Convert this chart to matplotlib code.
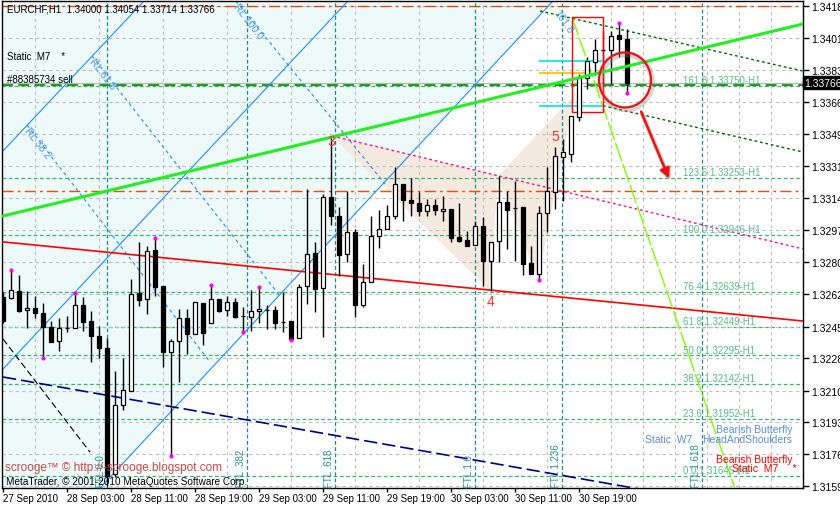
import numpy as np
import matplotlib
matplotlib.use("Agg")
import matplotlib.pyplot as plt
from matplotlib.patches import Ellipse, Polygon, Rectangle, FancyArrowPatch

plt.rcParams['font.family'] = ['Liberation Sans', 'DejaVu Sans']

# EURCHF H1 bars, bar 0 = 27 Sep 2010 19:00
opens = [1.32610, 1.32604, 1.32642, 1.32540, 1.32550, 1.32523, 1.32450, 1.32371, 1.32441, 1.32441,
         1.32565, 1.32480, 1.32401, 1.32335, 1.31655, 1.32029, 1.32104, 1.32631, 1.32599, 1.32863,
         1.32668, 1.32311, 1.32371, 1.32497, 1.32410, 1.32575, 1.32468, 1.32599, 1.32541, 1.32581,
         1.32505, 1.32500, 1.32533, 1.32540, 1.32540, 1.32476, 1.32482, 1.32387, 1.32668, 1.32847,
         1.32657, 1.33148, 1.33045, 1.32840, 1.32959, 1.32568, 1.32689, 1.32937, 1.32977, 1.33045,
         1.33220, 1.33135, 1.33117, 1.33075, 1.33106, 1.33072, 1.33085, 1.32932, 1.32919, 1.32892,
         1.32991, 1.32806, 1.32910, 1.33121, 1.33090, 1.33094, 1.32793, 1.32734, 1.33061, 1.33178,
         1.33364, 1.33381, 1.33580, 1.33790, 1.33876, 1.33943, 1.33943, 1.34024, 1.34000]
highs = [1.32637, 1.32755, 1.32728, 1.32644, 1.32617, 1.32577, 1.32482, 1.32496, 1.32506, 1.32630,
         1.32610, 1.32536, 1.32455, 1.32387, 1.32212, 1.32281, 1.32707, 1.32908, 1.32887, 1.32923,
         1.32668, 1.32383, 1.32545, 1.32545, 1.32581, 1.32575, 1.32674, 1.32599, 1.32614, 1.32603,
         1.32554, 1.32649, 1.32660, 1.32567, 1.32563, 1.32635, 1.32482, 1.32680, 1.33193, 1.32905,
         1.33166, 1.33480, 1.33094, 1.33183, 1.32977, 1.32788, 1.33045, 1.33081, 1.33106, 1.33310,
         1.33220, 1.33250, 1.33178, 1.33139, 1.33139, 1.33157, 1.33085, 1.33117, 1.32968, 1.33022,
         1.33040, 1.32905, 1.33264, 1.33183, 1.33237, 1.33094, 1.32887, 1.33103, 1.33310, 1.33419,
         1.33462, 1.33585, 1.33813, 1.33903, 1.34002, 1.34045, 1.34045, 1.34083, 1.34054]
lows = [1.32470, 1.32600, 1.32529, 1.32441, 1.32498, 1.32284, 1.32365, 1.32320, 1.32422, 1.32441,
        1.32426, 1.32257, 1.32279, 1.31590, 1.31639, 1.32002, 1.32104, 1.32563, 1.32518, 1.32617,
        1.32231, 1.31752, 1.32153, 1.32302, 1.32410, 1.32351, 1.32468, 1.32527, 1.32505, 1.32495,
        1.32422, 1.32428, 1.32469, 1.32437, 1.32437, 1.32419, 1.32380, 1.32387, 1.32572, 1.32530,
        1.32392, 1.32998, 1.32725, 1.32797, 1.32500, 1.32554, 1.32689, 1.32873, 1.32977, 1.33031,
        1.33018, 1.33045, 1.33045, 1.33048, 1.33052, 1.33022, 1.32905, 1.32905, 1.32887, 1.32892,
        1.32671, 1.32644, 1.32797, 1.32869, 1.32806, 1.32730, 1.32734, 1.32707, 1.32962, 1.33085,
        1.33128, 1.33337, 1.33561, 1.33732, 1.33808, 1.33760, 1.33759, 1.33903, 1.33714]
closes = [1.32480, 1.32648, 1.32534, 1.32550, 1.32525, 1.32446, 1.32369, 1.32442, 1.32441, 1.32565,
          1.32477, 1.32398, 1.32336, 1.31644, 1.32027, 1.32108, 1.32626, 1.32595, 1.32856, 1.32665,
          1.32315, 1.32371, 1.32495, 1.32410, 1.32581, 1.32416, 1.32599, 1.32536, 1.32581, 1.32500,
          1.32505, 1.32536, 1.32545, 1.32540, 1.32469, 1.32476, 1.32383, 1.32662, 1.32842, 1.32653,
          1.33148, 1.33045, 1.32838, 1.32959, 1.32568, 1.32689, 1.32937, 1.32977, 1.33045, 1.33220,
          1.33135, 1.33117, 1.33075, 1.33106, 1.33081, 1.33085, 1.32930, 1.32914, 1.32887, 1.32991,
          1.32806, 1.32905, 1.33121, 1.33081, 1.33090, 1.32788, 1.32734, 1.33061, 1.33180, 1.33373,
          1.33391, 1.33585, 1.33791, 1.33882, 1.33943, 1.33943, 1.34016, 1.34002, 1.33766]
fractal_up = [1, 9, 19, 26, 32, 77]
fractal_down = [5, 21, 30, 36, 67, 78]

time_ticks = [0, 8, 16, 24, 32, 40, 48, 56, 64, 72]
time_labels = ["27 Sep 2010", "28 Sep 03:00", "28 Sep 11:00", "28 Sep 19:00", "29 Sep 03:00",
               "29 Sep 11:00", "29 Sep 19:00", "30 Sep 03:00", "30 Sep 11:00", "30 Sep 19:00"]
price_ticks = [1.34180, 1.34010, 1.33835, 1.33660, 1.33490, 1.33315, 1.33145, 1.32970,
               1.32800, 1.32625, 1.32450, 1.32280, 1.32105, 1.31935, 1.31760, 1.31590]

# fibo retracement levels
fib_names = ["161.8", "123.6", "100.0", "76.4", "61.8", "50.0", "38.2", "23.6", "0.0"]
fib_prices = [1.33750, 1.33253, 1.32946, 1.32639, 1.32449, 1.32295, 1.32142, 1.31952, 1.31645]
# fibo time lines
ftl_names = ["FTL 0.0", "FTL .382", "FTL .618", "FTL 1.0", "FTL 1.236", "FTL 1.618"]
ftl_bars = [13.0, 30.5, 41.5, 59.0, 69.875, 87.375]

bid = 1.33766
order_price = 1.33755
sl_tp_prices = [1.34180, 1.33180]

# trend lines as (bar, price) pairs
green_trend = [(0, 1.33047), (100, 1.34083)]
red_trend = [(0, 1.32907), (100, 1.32480)]
navy_trend = [(0, 1.32178), (80, 1.31570)]
black_trend = [(0, 1.32383), (10.875, 1.31773)]
pink_trend = [(41.125, 1.33479), (100, 1.32869)]
dkgreen_upper = [(67.125, 1.34153), (100, 1.33829)]
dkgreen_lower = [(75, 1.33642), (100, 1.33392)]
lime_trend = [(71.125, 1.34121), (91.5, 1.31574)]
blue_ch1 = [(0, 1.33398), (17.625, 1.34207)]
blue_ch2 = [(0, 1.32221), (43.125, 1.34207)]
blue_ch3 = [(12.125, 1.31579), (68.75, 1.34207)]
blue_rl = {"RL 38.2": [(3.0, 1.33538), (25.875, 1.32259)],
           "RL 61.8": [(11.125, 1.33910), (34.625, 1.32615)],
           "RL 100.0": [(29.125, 1.34207), (47.75, 1.33220)]}

# harmonic pattern points
pat_x = [41.125, 60.875, 61.875, 66.875, 71.5]
pat_y = [1.33479, 1.32642, 1.33263, 1.32707, 1.33705]
zz_labels = ["3", "4", "5"]
zz_x = [41.0, 60.96, 69.0]
zz_y = [1.33452, 1.32590, 1.33480]

W, H = 840, 506
fig = plt.figure(figsize=(W / 100, H / 100), dpi=100)
ax = fig.add_axes([2 / W, 17 / H, 801 / W, 487 / H])
x0, x1 = -0.125, 100
y0, y1 = 1.31579, 1.34207
ax.set_xlim(x0, x1)
ax.set_ylim(y0, y1)

def pos(px, py):
    # pixel layout -> axes fraction
    return (px - 2) / 801, (489 - py) / 487

# light cyan tint left of the channel
ax.add_patch(Polygon([(x0, y0), blue_ch3[0], blue_ch3[1], (x0, y1)], closed=True,
                     facecolor='#eef9f9', edgecolor='none', zorder=0))
# pattern triangles
ax.add_patch(Polygon(list(zip(pat_x[:3], pat_y[:3])), facecolor='#f5eadf', edgecolor='none', zorder=0.5))
ax.add_patch(Polygon(list(zip(pat_x[2:], pat_y[2:])), facecolor='#f5eadf', edgecolor='none', zorder=0.5))

# grid
ax.set_xticks(range(0, 101, 4), minor=True)
ax.set_xticks(time_ticks)
ax.set_xticklabels(time_labels)
ax.set_yticks(price_ticks)
ax.set_yticklabels([f"{p:.5f}" for p in price_ticks])
ax.yaxis.tick_right()
ax.grid(True, which='minor', axis='x', color='#c0c0c0', lw=0.8, dashes=(3, 3))
ax.grid(True, which='major', axis='y', color='#c0c0c0', lw=0.8, dashes=(3, 3))
ax.tick_params(axis='x', which='major', labelsize=7, length=3, width=1, color='black', pad=0.5)
ax.tick_params(axis='y', which='major', labelsize=7.5, length=4, width=1, color='black', pad=2)
ax.tick_params(axis='x', which='minor', length=0)
for lab in ax.get_xticklabels():
    lab.set_horizontalalignment('left')
for s in ax.spines.values():
    s.set_color('black')
    s.set_linewidth(1)

# fibo time lines
for name, b in zip(ftl_names, ftl_bars):
    ax.axvline(b, color='#1a8a8a', lw=0.9, dashes=(3, 2), zorder=1.5)
    ax.text(b - 0.15, y0 + 0.00003, name, rotation=90, ha='right', va='bottom',
            fontsize=7, color='#2a9090', zorder=6)

# fibo levels
for name, p in zip(fib_names, fib_prices):
    ax.axhline(p, color='#3cb371', lw=0.9, dashes=(3, 2), zorder=1.5)
    ax.text(85.0, p + 0.00004, f"{name} {p:.5f}-H1", fontsize=7, color='#5cbc8c',
            va='bottom', ha='left', zorder=6)

# SL / TP lines and order, bid
for p in sl_tp_prices:
    ax.axhline(p, color='#ff4500', lw=1.0, dashes=(8, 3, 2, 3), zorder=2)
ax.axhline(order_price, color='#009000', lw=1.3, dashes=(6, 3), zorder=2)
ax.axhline(bid, color='#b8b8b8', lw=0.9, zorder=2)

def seg(pts, **kw):
    xs, ys = zip(*pts)
    ax.plot(xs, ys, **kw)

# channel lines
for ch in (blue_ch1, blue_ch2, blue_ch3):
    seg(ch, color='#1e90ff', lw=0.8, zorder=2)
for name, pts in blue_rl.items():
    seg(pts, color='#1e90ff', lw=0.8, dashes=(3, 3), zorder=2)
    ax.text(pts[0][0] + 0.4, pts[0][1], name, rotation=-52, rotation_mode='anchor',
            fontsize=7.5, color='#4a9be0', ha='left', va='top', zorder=6)
ax.text(69.6, 1.34175, "161.8", rotation=-55, rotation_mode='anchor', fontsize=7.5,
        color='#4a9be0', ha='left', va='top', zorder=6)

seg(red_trend, color='#ff0000', lw=1.2, zorder=3)
seg(navy_trend, color='#000080', lw=1.2, dashes=(8, 3), zorder=3)
seg(black_trend, color='black', lw=0.8, dashes=(6, 3), zorder=3)
seg(pink_trend, color='#ff1493', lw=1.0, dashes=(2, 2), zorder=3)
seg(dkgreen_upper, color='#006400', lw=1.0, dashes=(2, 2), zorder=3)
seg(dkgreen_lower, color='#006400', lw=1.0, dashes=(2, 2), zorder=3)
seg(lime_trend, color='#80ff00', lw=1.0, dashes=(14, 2), zorder=3)

# candles
idx = np.arange(len(opens))
o = np.array(opens); c = np.array(closes)
ax.vlines(idx, lows, highs, color='black', lw=1.0, zorder=4)
bull = c >= o
ax.bar(idx[bull], (c - o)[bull], bottom=o[bull], width=0.62, color='white',
       edgecolor='black', linewidth=0.9, zorder=4.5)
ax.bar(idx[~bull], (o - c)[~bull], bottom=c[~bull], width=0.62, color='black',
       edgecolor='black', linewidth=0.9, zorder=4.5)
ax.scatter(fractal_up, [highs[i] + 0.00003 for i in fractal_up], s=4, color='#ff00ff', zorder=5)
ax.scatter(fractal_down, [lows[i] - 0.00003 for i in fractal_down], s=4, color='#ff00ff', zorder=5)

# thick green trend over candles
seg(green_trend, color='#22ee22', lw=2.2, zorder=5)

# marks around the last bars
ax.hlines([1.33882, 1.33642], 67, 74.875, color='#00e0f0', lw=1.2, zorder=4.2)
ax.hlines([1.33817], 67, 72.75, color='#f0c000', lw=1.2, zorder=4.2)
ax.add_patch(Rectangle((71.125, 1.33608), 3.875, 0.00513, fill=False, edgecolor='red', lw=1.0, zorder=4.3))

for i, t in enumerate(zz_labels):
    ax.text(zz_x[i], zz_y[i], t, color='#ff3030', fontsize=10, ha='center', va='center', zorder=6)

ax.add_patch(Ellipse((77.9, 1.33770), 6.5, 0.00297, fill=False, edgecolor='#888888', alpha=0.35, lw=4, zorder=6))
ax.add_patch(Ellipse((77.75, 1.33781), 6.5, 0.00297, fill=False, edgecolor='#ee1111', lw=1.6, zorder=6.5))
ax.add_patch(FancyArrowPatch((79.8, 1.33610), (83.55, 1.33222), arrowstyle='-|>', mutation_scale=14,
                             color='#888888', alpha=0.4, lw=3.5, zorder=6))
ax.add_patch(FancyArrowPatch((79.625, 1.33624), (83.375, 1.33236), arrowstyle='-|>', mutation_scale=14,
                             color='#ee1111', lw=1.8, zorder=6.5))

# bid label on price scale
ax.text(1.002, bid, "1.33766", transform=ax.get_yaxis_transform(), fontsize=7.5, color='white',
        va='center', ha='left', zorder=10, clip_on=False,
        bbox=dict(facecolor='black', edgecolor='black', pad=1.2))

# texts
ax.text(*pos(7, 10), "EURCHF,H1  1.34000 1.34054 1.33714 1.33766", transform=ax.transAxes,
        fontsize=7, va='center', ha='left', zorder=10)
ax.text(*pos(7, 57), "Static  M7    *", transform=ax.transAxes, fontsize=7, va='center', ha='left', zorder=10)
ax.text(*pos(7, 80), "#88385734 sell", transform=ax.transAxes, fontsize=7, va='center', ha='left', zorder=10)
ax.text(*pos(5, 468), "scrooge\u2122 \u00a9 http://-scrooge.blogspot.com", transform=ax.transAxes,
        fontsize=8.5, color='#c84848', va='center', ha='left', zorder=10)
ax.text(*pos(6, 482), "MetaTrader, \u00a9 2001-2010 MetaQuotes Software Corp.", transform=ax.transAxes,
        fontsize=7.2, va='center', ha='left', zorder=10)

ax.text(*pos(716, 430), "Bearish Butterfly", transform=ax.transAxes, fontsize=7.5, color='#5b8fd0',
        va='center', ha='left', zorder=10)
ax.text(*pos(702, 440), "HeadAndShoulders", transform=ax.transAxes, fontsize=7.5, color='#5b8fd0',
        va='center', ha='left', zorder=10)
ax.text(*pos(645, 440), "Static  W7", transform=ax.transAxes, fontsize=7.5, color='#5b8fd0',
        va='center', ha='left', zorder=10)
ax.text(*pos(716, 460), "Bearish Butterfly", transform=ax.transAxes, fontsize=7.5, color='#ff0000',
        va='center', ha='left', zorder=10)
ax.text(*pos(732, 469), "Static  M7     *", transform=ax.transAxes, fontsize=7.5, color='#ff0000',
        va='center', ha='left', zorder=10)

fig.savefig("out.png", dpi=100, facecolor='white')
